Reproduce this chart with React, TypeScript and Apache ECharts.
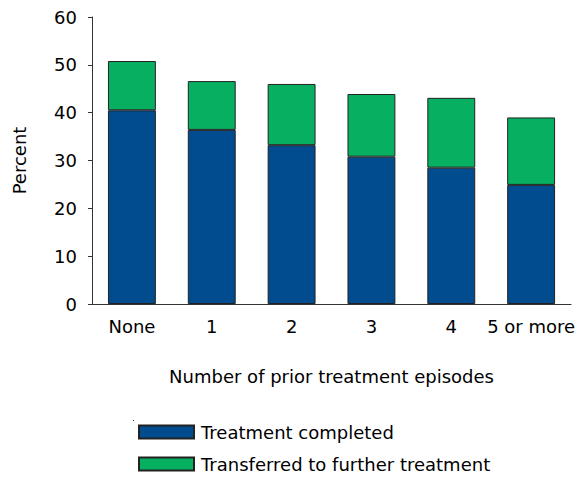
import React, { useEffect, useRef } from "react";
import * as echarts from "echarts";

const categories = ["None", "1", "2", "3", "4", "5 or more"];
const completed = [40.5, 36.4, 33.2, 30.8, 28.5, 24.9];
const transferred = [10.3, 10.2, 12.8, 13.1, 14.6, 14.1];
const yTicks = [0, 10, 20, 30, 40, 50, 60];

export default function App() {
  const ref = useRef<HTMLDivElement>(null);
  useEffect(() => {
    const chart = echarts.init(ref.current!, null, { renderer: "svg" });
    const font = "DejaVu Sans, Liberation Sans, sans-serif";
    const fs = 18;
    chart.setOption({
      animation: false,
      textStyle: { fontFamily: font },
      grid: { left: 92, right: 6, top: 17, bottom: 176 },
      legend: {
        orient: "vertical",
        left: 133,
        top: 418,
        itemWidth: 55,
        itemHeight: 13,
        itemGap: 14,
        icon: "rect",
        textStyle: { fontSize: fs, color: "#000", fontFamily: font, padding: [0, 0, 0, 2] },
        data: ["Treatment completed", "Transferred to further treatment"],
      },
      graphic: [
        { type: "rect", left: 133, top: 420, shape: { width: 1, height: 1 }, style: { fill: "#444" } },
      ],
      xAxis: {
        type: "category",
        data: categories,
        name: "Number of prior treatment episodes",
        nameLocation: "middle",
        nameGap: 63,
        nameTextStyle: { fontSize: fs, color: "#000", fontFamily: font },
        axisLine: { lineStyle: { color: "#333", width: 1 } },
        axisTick: { show: false },
        axisLabel: { interval: 0, fontSize: fs, color: "#000", margin: 13, fontFamily: font },
      },
      yAxis: {
        type: "value",
        min: yTicks[0],
        max: yTicks[yTicks.length - 1],
        interval: 10,
        name: "Percent",
        nameLocation: "middle",
        nameGap: 64,
        nameTextStyle: { fontSize: fs, color: "#000", fontFamily: font },
        axisLine: { show: true, lineStyle: { color: "#333", width: 1 } },
        axisTick: { show: true, length: 4, lineStyle: { color: "#333" } },
        splitLine: { show: false },
        axisLabel: { fontSize: fs, color: "#000", margin: 15, fontFamily: font },
      },
      series: [
        {
          name: "Treatment completed",
          type: "bar",
          stack: "t",
          data: completed,
          barWidth: "60%",
          itemStyle: { color: "#004C8F", borderColor: "#222", borderWidth: 1 },
        },
        {
          name: "Transferred to further treatment",
          type: "bar",
          stack: "t",
          data: transferred,
          barWidth: "60%",
          itemStyle: { color: "#07B060", borderColor: "#222", borderWidth: 1 },
        },
      ],
    });
    return () => chart.dispose();
  }, []);
  return (
    <div
      ref={ref}
      style={{ position: "absolute", left: 0, top: 0, width: 578, height: 480, overflow: "visible" }}
    />
  );
}
